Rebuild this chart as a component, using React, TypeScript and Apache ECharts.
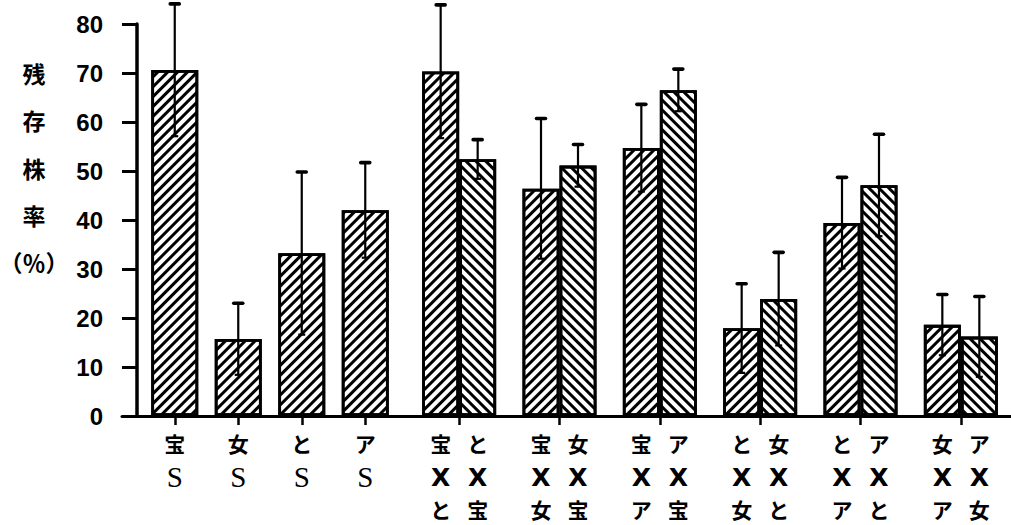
import React, { useEffect, useRef } from 'react';
import * as echarts from 'echarts';

// ---- data ----
const singleLabels = ['宝', '女', 'と', 'ア'];
const singleMeans = [70.6, 15.7, 33.2, 42.0];
const singleErrors = [13.5, 7.3, 16.6, 9.7];

const pairFemale = ['宝', '宝', '宝', 'と', 'と', '女'];
const pairMale = ['と', '女', 'ア', '女', 'ア', 'ア'];
const pairLeftMeans = [70.3, 46.4, 54.7, 17.9, 39.4, 18.6];
const pairLeftErrors = [13.6, 14.3, 8.9, 9.1, 9.3, 6.2];
const pairRightMeans = [52.4, 51.1, 66.5, 23.9, 47.1, 16.2];
const pairRightErrors = [4.0, 4.3, 4.3, 9.5, 10.4, 8.2];

const yMin = 0;
const yMax = 80;
const yInterval = 10;
const yTitle = '残\n存\n株\n率\n（％）';

// ---- styles ----
const CJK = "'Noto Sans CJK JP', 'Noto Sans CJK SC', sans-serif";
const NUM = "'Liberation Sans', Arial, sans-serif";
const SERIF = "'Liberation Serif', 'DejaVu Serif', serif";
const LATIN = "'DejaVu Sans', sans-serif";

const hatch = (rotation: number) => ({
  symbol: 'rect',
  symbolSize: 1,
  dashArrayX: [1, 0],
  dashArrayY: [2.7, 3.9],
  rotation,
  color: '#000',
  backgroundColor: '#fff',
});

const SINGLE_BAR_W = 47;
const PAIR_BAR_W = 37;
const LINE_H = 34;

function errorSeries(axisIndex: number, means: number[], errors: number[], offset: number) {
  return {
    type: 'custom',
    xAxisIndex: axisIndex,
    yAxisIndex: axisIndex,
    silent: true,
    clip: false,
    z: 10,
    encode: { x: 0, y: [1, 2] },
    data: means.map((m, i) => [i, m - errors[i], m + errors[i]]),
    renderItem: (params: any, api: any) => {
      const idx = api.value(0);
      const lo = api.coord([idx, api.value(1)]);
      const hi = api.coord([idx, api.value(2)]);
      const cx = lo[0] + offset;
      return {
        type: 'group',
        children: [
          { type: 'line', shape: { x1: cx, y1: lo[1], x2: cx, y2: hi[1] }, style: { stroke: '#000', lineWidth: 2.2 } },
          { type: 'line', shape: { x1: cx - 4.5, y1: hi[1], x2: cx + 4.5, y2: hi[1] }, style: { stroke: '#000', lineWidth: 3.6, lineCap: 'round' } },
          { type: 'line', shape: { x1: cx - 3.5, y1: lo[1], x2: cx + 3.5, y2: lo[1] }, style: { stroke: '#000', lineWidth: 2.2 } },
        ],
      };
    },
  };
}

export default function App() {
  const ref = useRef<HTMLDivElement>(null);

  useEffect(() => {
    if (!ref.current) return;
    const chart = echarts.init(ref.current, null, { renderer: 'svg' });

    const top = 24;
    const bottom = 109;
    const tick = { show: true, alignWithLabel: true, length: 9, lineStyle: { color: '#000', width: 2.5 } };
    const kStyle = { fontFamily: CJK, fontWeight: 'bold', fontSize: 21, lineHeight: LINE_H, color: '#000', width: 37, align: 'center' };

    const option: any = {
      animation: false,
      backgroundColor: '#fff',
      grid: [
        { left: 143, width: 254, top, bottom, outerBoundsMode: 'none' },
        { left: 409, width: 602, top, bottom, outerBoundsMode: 'none' },
        { left: 122, right: 0, top, bottom, outerBoundsMode: 'none' },
      ],
      xAxis: [
        {
          type: 'category',
          gridIndex: 0,
          data: singleLabels.map((s) => `{k|${s}}\n{s|S}`),
          axisLine: { show: false },
          axisTick: tick,
          axisLabel: {
            margin: 10,
            interval: 0,
            color: '#000',
            rich: {
              k: kStyle,
              s: { fontFamily: SERIF, fontSize: 29, lineHeight: LINE_H, color: '#000', width: 37, align: 'center' },
            },
          },
          splitLine: { show: false },
        },
        {
          type: 'category',
          gridIndex: 1,
          data: pairFemale.map(
            (f, i) => `{k|${f}}{k|${pairMale[i]}}\n{x|X}{x|X}\n{m|${pairMale[i]}}{m|${f}}`
          ),
          axisLine: { show: false },
          axisTick: tick,
          axisLabel: {
            margin: 10,
            interval: 0,
            color: '#000',
            rich: {
              k: kStyle,
              m: { ...kStyle, lineHeight: 29 },
              x: { fontFamily: LATIN, fontWeight: 'bold', fontSize: 25, lineHeight: LINE_H, color: '#000', width: 37, align: 'center' },
            },
          },
          splitLine: { show: false },
        },
        {
          type: 'value',
          gridIndex: 2,
          min: 0,
          max: 1,
          axisLine: { show: true, lineStyle: { color: '#000', width: 3 } },
          axisTick: { show: false },
          axisLabel: { show: false },
          splitLine: { show: false },
        },
      ],
      yAxis: [
        {
          type: 'value',
          gridIndex: 0,
          min: yMin,
          max: yMax,
          interval: yInterval,
          offset: 6,
          axisLine: { show: true, lineStyle: { color: '#000', width: 3.5 } },
          axisTick: { show: true, length: 15, lineStyle: { color: '#000', width: 3 } },
          axisLabel: {
            margin: 34,
            color: '#000',
            fontFamily: NUM,
            fontWeight: 'bold',
            fontSize: 24,
            padding: [10, 0, 0, 0],
          },
          splitLine: { show: false },
        },
        { type: 'value', gridIndex: 1, min: yMin, max: yMax, interval: yInterval, show: false },
        { type: 'value', gridIndex: 2, min: 0, max: 1, show: false },
      ],
      graphic: [
        {
          type: 'text',
          x: 34,
          y: 49.5,
          style: {
            text: yTitle,
            fill: '#000',
            font: `bold 23px ${CJK}`,
            lineHeight: 47.3,
            align: 'center',
            verticalAlign: 'top',
          },
        },
      ],
      series: [
        {
          type: 'bar',
          xAxisIndex: 0,
          yAxisIndex: 0,
          barWidth: SINGLE_BAR_W,
          data: singleMeans,
          itemStyle: { color: '#fff', borderColor: '#000', borderWidth: 2.8, decal: hatch(-Math.PI / 4) },
        },
        {
          type: 'bar',
          xAxisIndex: 1,
          yAxisIndex: 1,
          barWidth: PAIR_BAR_W,
          barGap: '0%',
          data: pairLeftMeans,
          itemStyle: { color: '#fff', borderColor: '#000', borderWidth: 2.8, decal: hatch(-Math.PI / 4) },
        },
        {
          type: 'bar',
          xAxisIndex: 1,
          yAxisIndex: 1,
          barWidth: PAIR_BAR_W,
          barGap: '0%',
          data: pairRightMeans,
          itemStyle: { color: '#fff', borderColor: '#000', borderWidth: 2.8, decal: hatch(Math.PI / 4) },
        },
        errorSeries(0, singleMeans, singleErrors, 0),
        errorSeries(1, pairLeftMeans, pairLeftErrors, -PAIR_BAR_W / 2),
        errorSeries(1, pairRightMeans, pairRightErrors, PAIR_BAR_W / 2),
      ],
    };

    chart.setOption(option);
    return () => chart.dispose();
  }, []);

  return (
    <div
      ref={ref}
      style={{ position: 'fixed', left: 0, top: 0, width: 1011, height: 525, background: '#fff' }}
    />
  );
}
